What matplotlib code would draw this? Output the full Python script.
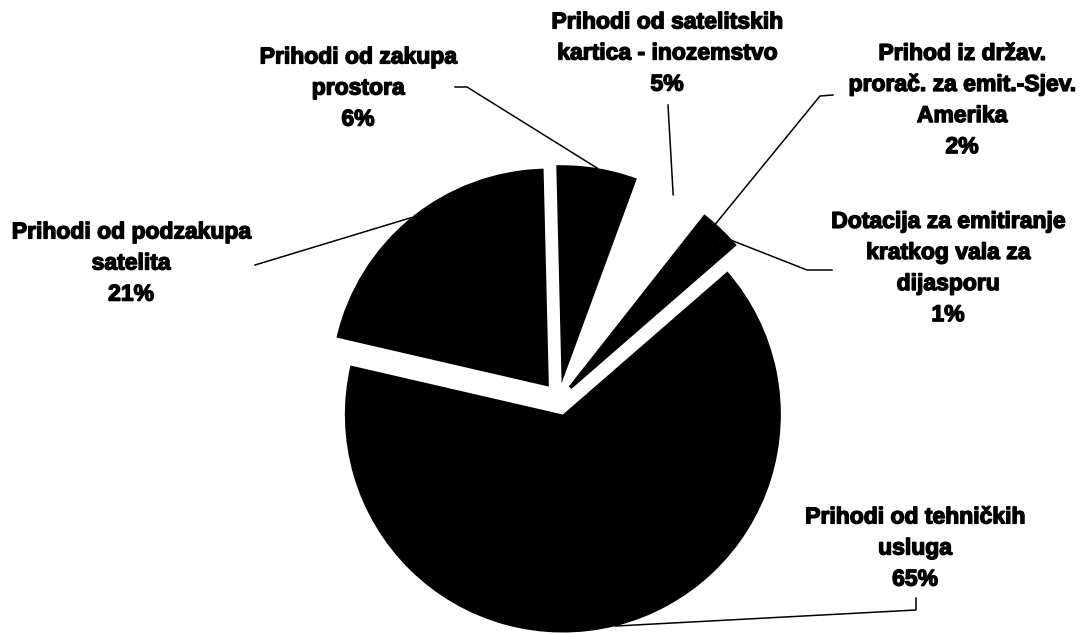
import matplotlib.pyplot as plt
import matplotlib.patheffects as pe
import numpy as np

# pie data, in drawing order (counter-clockwise from the left edge)
labels = ['Prihodi od tehničkih\nusluga',
          'Dotacija za emitiranje\nkratkog vala za\ndijasporu',
          'Prihod iz držav.\nprorač. za emit.-Sjev.\nAmerika',
          'Prihodi od satelitskih\nkartica - inozemstvo',
          'Prihodi od zakupa\nprostora',
          'Prihodi od podzakupa\nsatelita']
shares = [65, 1, 2, 5, 6, 21]
colors = ['black', 'black', 'black', 'white', 'black', 'black']

# layout (pixel coords, y measured from the top of the picture)
W, H = 1080, 634
pie_center = (559, H - 399)
pie_radius = 218
label_pos = [(915, 548), (948, 268), (962, 100), (667, 53), (358, 88), (131, 263)]
# leader line points on the label side, from the label towards the pie
leader_pts = [[(916, 598), (916, 610)],
              [(832, 270), (807, 270)],
              [(833, 95), (820, 96)],
              [(668, 105)],
              [(455, 87), (467, 87)],
              [(255, 265)]]

plt.rcParams['font.family'] = ['Liberation Sans', 'DejaVu Sans']

fig = plt.figure(figsize=(W / 100, H / 100), dpi=100)
ax = fig.add_axes([0, 0, 1, 1])

# explode is in data units here (pixels)
wedges, _ = ax.pie(shares, colors=colors, startangle=167, counterclock=True,
                   explode=[16] * len(shares), center=pie_center,
                   radius=pie_radius, wedgeprops=dict(linewidth=0))
# the two thin slices look merged in the original
for w in wedges[1:3]:
    w.set_edgecolor('black')
    w.set_linewidth(1.5)

ax.set_xlim(0, W)
ax.set_ylim(0, H)
ax.set_aspect('equal')
ax.axis('off')

for w, lab, val, pos, pts in zip(wedges, labels, shares, label_pos, leader_pts):
    t = ax.text(pos[0], H - pos[1], lab + '\n%d%%' % val, ha='center', va='center',
                fontsize=16.5, fontweight='bold', linespacing=1.45)
    t.set_path_effects([pe.withStroke(linewidth=1.0, foreground='black')])
    ang = np.deg2rad((w.theta1 + w.theta2) / 2)
    ex = w.center[0] + w.r * np.cos(ang)
    ey = w.center[1] + w.r * np.sin(ang)
    xs = [p[0] for p in pts] + [ex]
    ys = [H - p[1] for p in pts] + [ey]
    ax.plot(xs, ys, color='black', lw=1.1)

fig.savefig('out.png', dpi=100)
